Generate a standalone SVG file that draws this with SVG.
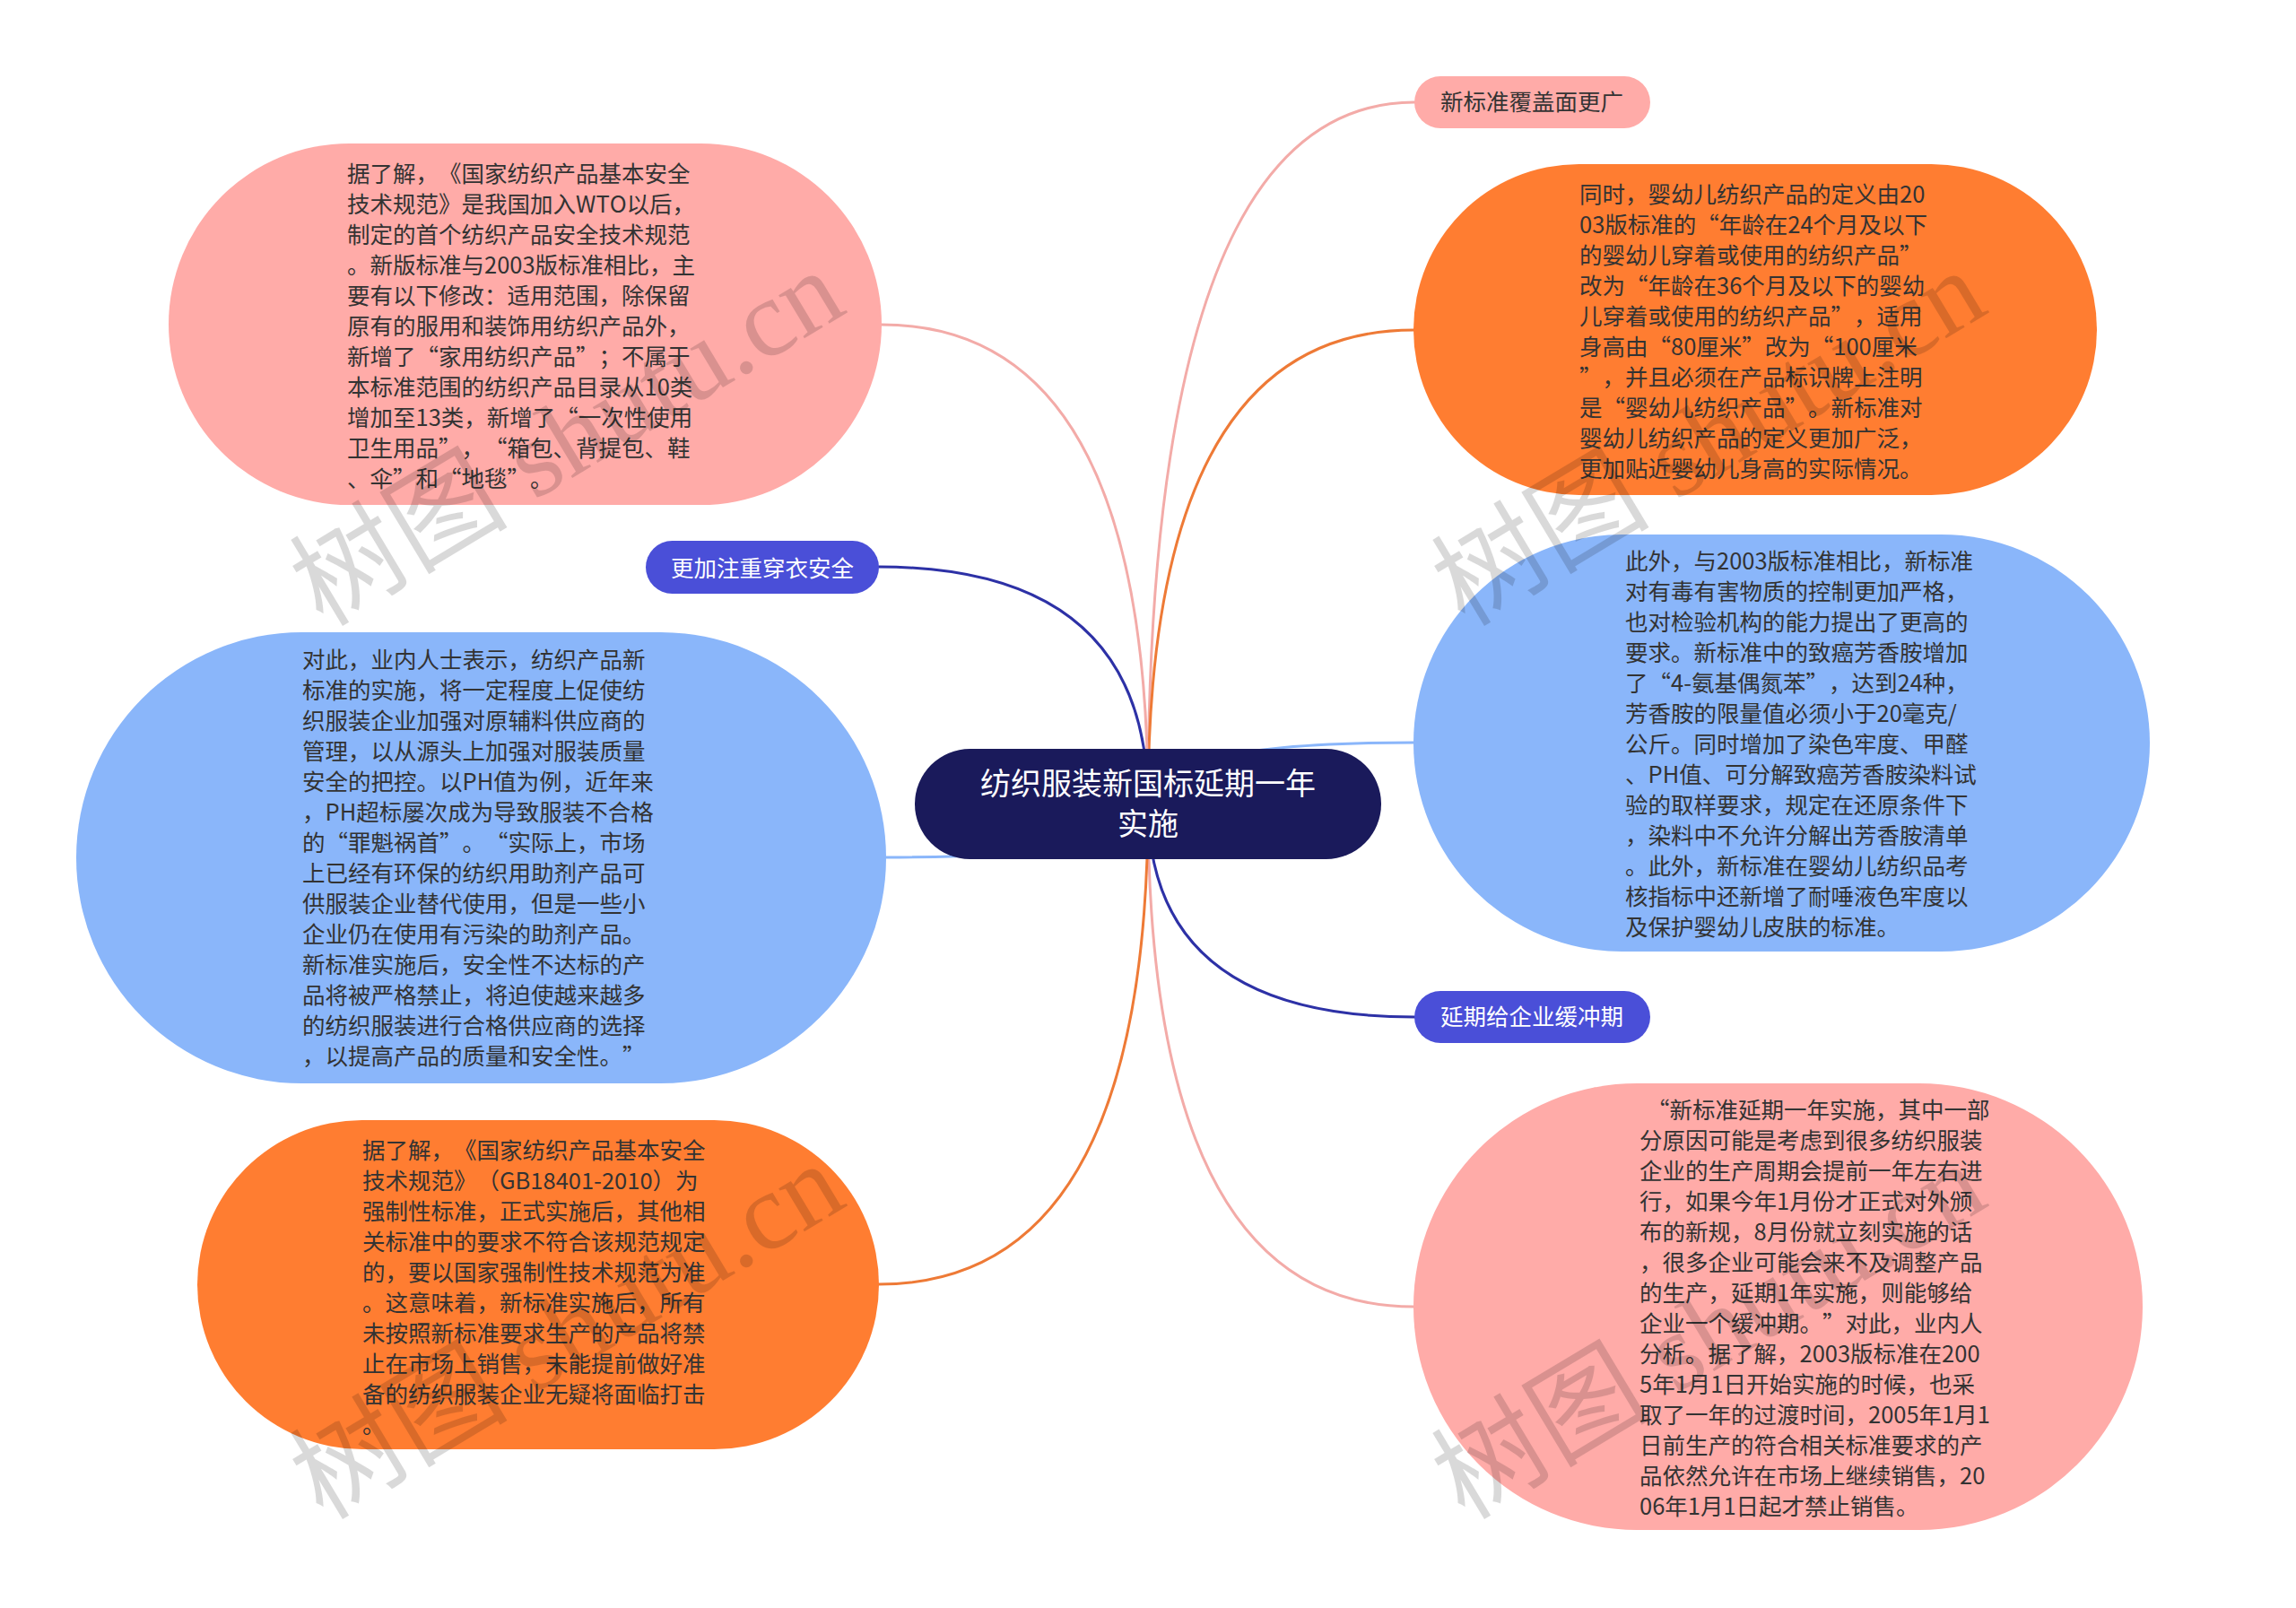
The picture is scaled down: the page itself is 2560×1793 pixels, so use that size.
<svg xmlns="http://www.w3.org/2000/svg" width="2560" height="1793" viewBox="0 0 2560 1793">
<defs>
<style>
text{text-spacing-trim:space-all;font-kerning:none}
.t{font-family:"Noto Sans CJK SC","Noto Sans",sans-serif;font-size:25.5px;fill:#333333}
.lbl{font-family:"Noto Sans CJK SC","Noto Sans",sans-serif;font-size:25.5px;text-anchor:middle}
.ctr{font-family:"Noto Sans CJK SC","Noto Sans",sans-serif;font-size:34px;fill:#ffffff;text-anchor:middle}
.pink{fill:#FFABA8}
.orange{fill:#FF7D31}
.blue{fill:#8AB6FA}
.purple{fill:#4A4FD8}
.c{fill:none;stroke-width:3;stroke-linecap:round}
.wm{font-family:"Liberation Serif","Noto Sans CJK SC",serif;font-size:122px;fill:#000000;fill-opacity:0.15}
</style>
</defs>
<rect width="2560" height="1793" fill="#ffffff"/>
<g id="connectors">
<path class="c" stroke="#F3ABA8" d="M1280,896 Q1280,114 1577,114"/>
<path class="c" stroke="#EE7A36" d="M1280,896 Q1280,368 1576,368"/>
<path class="c" stroke="#8AB6FA" d="M1280,896 Q1280,828 1576,828"/>
<path class="c" stroke="#2D31A6" d="M1280,896 Q1280,1134 1577,1134"/>
<path class="c" stroke="#F3ABA8" d="M1280,896 Q1280,1457 1576,1457"/>
<path class="c" stroke="#F3ABA8" d="M1280,896 Q1280,362 983,362"/>
<path class="c" stroke="#2D31A6" d="M1280,896 Q1280,632 980,632"/>
<path class="c" stroke="#8AB6FA" d="M1280,896 Q1280,956 988,956"/>
<path class="c" stroke="#EE7A36" d="M1280,896 Q1280,1432 980,1432"/>
</g>
<g id="center">
<rect x="1020" y="835" width="520" height="123" rx="61.5" fill="#1A1A5B"/>
<text class="ctr" x="1280" y="886">纺织服装新国标延期一年</text>
<text class="ctr" x="1280" y="931">实施</text>
</g>
<g id="node-cover">
<rect class="pink" x="1577" y="85" width="263" height="58" rx="29"/>
<text class="lbl" x="1708" y="123" fill="#333333">新标准覆盖面更广</text>
</g>
<g id="node-safety">
<rect class="purple" x="720" y="603" width="260" height="59" rx="29.5"/>
<text class="lbl" x="850" y="643" fill="#ffffff">更加注重穿衣安全</text>
</g>
<g id="node-delay">
<rect class="purple" x="1577" y="1105" width="263" height="58" rx="29"/>
<text class="lbl" x="1708" y="1143" fill="#ffffff">延期给企业缓冲期</text>
</g>
<g id="node-tl">
<rect class="pink" x="188" y="160" width="795" height="403" rx="201.5"/>
<text class="t">
<tspan x="387" y="203">据了解，《国家纺织产品基本安全</tspan>
<tspan x="387" y="237">技术规范》是我国加入WTO以后，</tspan>
<tspan x="387" y="271">制定的首个纺织产品安全技术规范</tspan>
<tspan x="387" y="305">。新版标准与2003版标准相比，主</tspan>
<tspan x="387" y="339">要有以下修改：适用范围，除保留</tspan>
<tspan x="387" y="373">原有的服用和装饰用纺织产品外，</tspan>
<tspan x="387" y="407">新增了“家用纺织产品”；不属于</tspan>
<tspan x="387" y="441">本标准范围的纺织产品目录从10类</tspan>
<tspan x="387" y="475">增加至13类，新增了“一次性使用</tspan>
<tspan x="387" y="509">卫生用品”，“箱包、背提包、鞋</tspan>
<tspan x="387" y="543">、伞”和“地毯”。</tspan>
</text>
</g>
<g id="node-tr">
<rect class="orange" x="1576" y="183" width="762" height="369" rx="184.5"/>
<text class="t">
<tspan x="1761" y="226">同时，婴幼儿纺织产品的定义由20</tspan>
<tspan x="1761" y="260">03版标准的“年龄在24个月及以下</tspan>
<tspan x="1761" y="294">的婴幼儿穿着或使用的纺织产品”</tspan>
<tspan x="1761" y="328">改为“年龄在36个月及以下的婴幼</tspan>
<tspan x="1761" y="362">儿穿着或使用的纺织产品”，适用</tspan>
<tspan x="1761" y="396">身高由“80厘米”改为“100厘米</tspan>
<tspan x="1761" y="430">”，并且必须在产品标识牌上注明</tspan>
<tspan x="1761" y="464">是“婴幼儿纺织产品”。新标准对</tspan>
<tspan x="1761" y="498">婴幼儿纺织产品的定义更加广泛，</tspan>
<tspan x="1761" y="532">更加贴近婴幼儿身高的实际情况。</tspan>
</text>
</g>
<g id="node-rb">
<rect class="blue" x="1576" y="596" width="821" height="465" rx="232.5"/>
<text class="t">
<tspan x="1812" y="634.5">此外，与2003版标准相比，新标准</tspan>
<tspan x="1812" y="668.5">对有毒有害物质的控制更加严格，</tspan>
<tspan x="1812" y="702.5">也对检验机构的能力提出了更高的</tspan>
<tspan x="1812" y="736.5">要求。新标准中的致癌芳香胺增加</tspan>
<tspan x="1812" y="770.5">了“4-氨基偶氮苯”，达到24种，</tspan>
<tspan x="1812" y="804.5">芳香胺的限量值必须小于20毫克/</tspan>
<tspan x="1812" y="838.5">公斤。同时增加了染色牢度、甲醛</tspan>
<tspan x="1812" y="872.5">、PH值、可分解致癌芳香胺染料试</tspan>
<tspan x="1812" y="906.5">验的取样要求，规定在还原条件下</tspan>
<tspan x="1812" y="940.5">，染料中不允许分解出芳香胺清单</tspan>
<tspan x="1812" y="974.5">。此外，新标准在婴幼儿纺织品考</tspan>
<tspan x="1812" y="1008.5">核指标中还新增了耐唾液色牢度以</tspan>
<tspan x="1812" y="1042.5">及保护婴幼儿皮肤的标准。</tspan>
</text>
</g>
<g id="node-lb">
<rect class="blue" x="85" y="705" width="903" height="503" rx="251.5"/>
<text class="t">
<tspan x="337" y="744.5">对此，业内人士表示，纺织产品新</tspan>
<tspan x="337" y="778.5">标准的实施，将一定程度上促使纺</tspan>
<tspan x="337" y="812.5">织服装企业加强对原辅料供应商的</tspan>
<tspan x="337" y="846.5">管理，以从源头上加强对服装质量</tspan>
<tspan x="337" y="880.5">安全的把控。以PH值为例，近年来</tspan>
<tspan x="337" y="914.5">，PH超标屡次成为导致服装不合格</tspan>
<tspan x="337" y="948.5">的“罪魁祸首”。“实际上，市场</tspan>
<tspan x="337" y="982.5">上已经有环保的纺织用助剂产品可</tspan>
<tspan x="337" y="1016.5">供服装企业替代使用，但是一些小</tspan>
<tspan x="337" y="1050.5">企业仍在使用有污染的助剂产品。</tspan>
<tspan x="337" y="1084.5">新标准实施后，安全性不达标的产</tspan>
<tspan x="337" y="1118.5">品将被严格禁止，将迫使越来越多</tspan>
<tspan x="337" y="1152.5">的纺织服装进行合格供应商的选择</tspan>
<tspan x="337" y="1186.5">，以提高产品的质量和安全性。”</tspan>
</text>
</g>
<g id="node-lo">
<rect class="orange" x="220" y="1249" width="760" height="367" rx="183.5"/>
<text class="t">
<tspan x="404" y="1291.5">据了解，《国家纺织产品基本安全</tspan>
<tspan x="404" y="1325.5">技术规范》（GB18401-2010）为</tspan>
<tspan x="404" y="1359.5">强制性标准，正式实施后，其他相</tspan>
<tspan x="404" y="1393.5">关标准中的要求不符合该规范规定</tspan>
<tspan x="404" y="1427.5">的，要以国家强制性技术规范为准</tspan>
<tspan x="404" y="1461.5">。这意味着，新标准实施后，所有</tspan>
<tspan x="404" y="1495.5">未按照新标准要求生产的产品将禁</tspan>
<tspan x="404" y="1529.5">止在市场上销售，未能提前做好准</tspan>
<tspan x="404" y="1563.5">备的纺织服装企业无疑将面临打击</tspan>
<tspan x="404" y="1597.5">。</tspan>
</text>
</g>
<g id="node-rp">
<rect class="pink" x="1576" y="1208" width="813" height="498" rx="249"/>
<text class="t">
<tspan x="1836" y="1246.5">“新标准延期一年实施，其中一部</tspan>
<tspan x="1828" y="1280.5">分原因可能是考虑到很多纺织服装</tspan>
<tspan x="1828" y="1314.5">企业的生产周期会提前一年左右进</tspan>
<tspan x="1828" y="1348.5">行，如果今年1月份才正式对外颁</tspan>
<tspan x="1828" y="1382.5">布的新规，8月份就立刻实施的话</tspan>
<tspan x="1828" y="1416.5">，很多企业可能会来不及调整产品</tspan>
<tspan x="1828" y="1450.5">的生产，延期1年实施，则能够给</tspan>
<tspan x="1828" y="1484.5">企业一个缓冲期。”对此，业内人</tspan>
<tspan x="1828" y="1518.5">分析。据了解，2003版标准在200</tspan>
<tspan x="1828" y="1552.5">5年1月1日开始实施的时候，也采</tspan>
<tspan x="1828" y="1586.5">取了一年的过渡时间，2005年1月1</tspan>
<tspan x="1828" y="1620.5">日前生产的符合相关标准要求的产</tspan>
<tspan x="1828" y="1654.5">品依然允许在市场上继续销售，20</tspan>
<tspan x="1828" y="1688.5">06年1月1日起才禁止销售。</tspan>
</text>
</g>
<g id="watermarks">
<text class="wm" transform="translate(360,700) rotate(-31)">树图 shutu.cn</text>
<text class="wm" transform="translate(1633,700) rotate(-31)">树图 shutu.cn</text>
<text class="wm" transform="translate(360,1696) rotate(-31)">树图 shutu.cn</text>
<text class="wm" transform="translate(1633,1696) rotate(-31)">树图 shutu.cn</text>
</g>
</svg>
